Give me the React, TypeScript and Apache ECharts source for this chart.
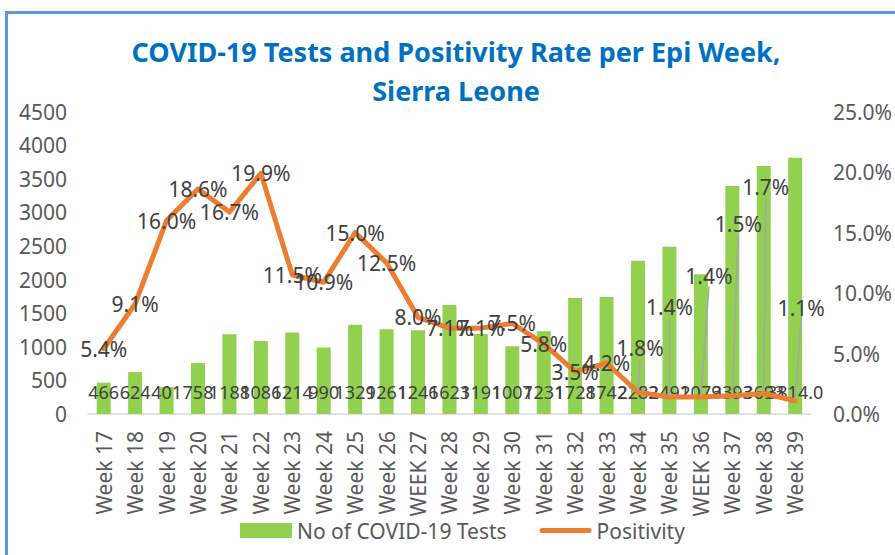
import React, { useEffect, useRef } from "react";
import * as echarts from "echarts";

const weeks = [
  "Week 17", "Week 18", "Week 19", "Week 20", "Week 21", "Week 22", "Week 23",
  "Week 24", "Week 25", "Week 26", "WEEK 27", "Week 28", "Week 29", "Week 30",
  "Week 31", "Week 32", "Week 33", "Week 34", "Week 35", "WEEK 36", "Week 37",
  "Week 38", "Week 39",
];

const tests = [
  466, 624, 401, 758, 1188, 1086, 1214, 990, 1329, 1261, 1246, 1623, 1191,
  1007, 1231, 1728, 1742, 2282, 2491, 2079, 3393, 3693, 3814,
];

const positivity = [
  5.4, 9.1, 16.0, 18.6, 16.7, 19.9, 11.5, 10.9, 15.0, 12.5, 8.0, 7.1, 7.1,
  7.5, 5.8, 3.5, 4.2, 1.8, 1.4, 1.4, 1.5, 1.7, 1.1,
];

const leftTicks = { min: 0, max: 4500, interval: 500 };
const rightTicks = { min: 0, max: 25, interval: 5 };

// label displacement (px) for the positivity labels that carry leader lines
const leaderOffsets: Record<number, [number, number]> = {
  17: [2, -44],
  18: [0, -90],
  19: [8, -121],
  20: [6, -172],
  21: [2, -206],
  22: [6, -93],
};

const FONT = "'Noto Sans', sans-serif";

export default function App() {
  const ref = useRef<HTMLDivElement>(null);

  useEffect(() => {
    if (!ref.current) return;
    const chart = echarts.init(ref.current, null, { renderer: "svg" });
    const last = tests.length - 1;

    chart.setOption({
      animation: false,
      backgroundColor: "#ffffff",
      textStyle: { fontFamily: FONT },
      title: {
        text: "COVID-19 Tests and Positivity Rate per Epi Week,\nSierra Leone",
        left: 456,
        top: 32,
        padding: 0,
        textAlign: "center",
        textStyle: {
          fontFamily: FONT,
          fontSize: 27,
          fontWeight: "bold",
          color: "#0070C0",
          lineHeight: 39,
        },
      },
      graphic: [
        {
          type: "rect",
          shape: { x: 6.5, y: 12.5, width: 940, height: 620 },
          style: { fill: "none", stroke: "#5B9BD5", lineWidth: 3 },
          silent: true,
        },
      ],
      legend: {
        left: 240,
        top: 520,
        padding: 0,
        itemWidth: 52,
        itemHeight: 15,
        itemGap: 33,
        textStyle: { fontFamily: FONT, fontSize: 21, color: "#595959" },
        data: [
          { name: "No of COVID-19 Tests", icon: "rect" },
          { name: "Positivity", icon: "path://M2,0 L50,0 Q52,0 52,2.5 Q52,5 50,5 L2,5 Q0,5 0,2.5 Q0,0 2,0 Z" },
        ],
      },
      grid: { left: 88, right: 82, top: 111.7, bottom: 141 },
      xAxis: {
        type: "category",
        data: weeks,
        boundaryGap: true,
        axisLine: { show: true, lineStyle: { color: "#D9D9D9", width: 1.5 } },
        axisTick: { show: false },
        axisLabel: {
          rotate: 90,
          margin: 17,
          interval: 0,
          fontFamily: FONT,
          fontSize: 21,
          color: "#595959",
        },
      },
      yAxis: [
        {
          type: "value",
          min: leftTicks.min,
          max: leftTicks.max,
          interval: leftTicks.interval,
          axisLine: { show: false },
          axisTick: { show: false },
          splitLine: { show: false },
          axisLabel: {
            margin: 21,
            fontFamily: FONT,
            fontSize: 21,
            color: "#595959",
            formatter: (v: number) => String(v),
          },
        },
        {
          type: "value",
          min: rightTicks.min,
          max: rightTicks.max,
          interval: rightTicks.interval,
          axisLine: { show: false },
          axisTick: { show: false },
          splitLine: { show: false },
          axisLabel: {
            margin: 22,
            fontFamily: FONT,
            fontSize: 21,
            color: "#595959",
            formatter: (v: number) => v.toFixed(1) + "%",
          },
        },
      ],
      series: [
        {
          name: "No of COVID-19 Tests",
          type: "bar",
          yAxisIndex: 0,
          data: tests,
          barWidth: 14,
          itemStyle: { color: "#92D050" },
          label: {
            show: true,
            position: "insideBottom",
            distance: 13,
            fontFamily: FONT,
            fontSize: 18,
            color: "#404040",
            formatter: (p: any) =>
              p.dataIndex === last ? Number(p.value).toFixed(1) : String(p.value),
          },
          z: 2,
        },
        {
          name: "Positivity",
          type: "line",
          yAxisIndex: 1,
          data: positivity.map((v, i) =>
            leaderOffsets[i] ? { value: v, labelLine: { show: true } } : v
          ),
          color: "#ED7D31",
          symbol: "circle",
          symbolSize: 2,
          lineStyle: { color: "#ED7D31", width: 5, cap: "round", join: "round" },
          itemStyle: { color: "#ED7D31" },
          label: {
            show: true,
            position: "inside",
            fontFamily: FONT,
            fontSize: 21,
            color: "#404040",
            formatter: (p: any) => Number(p.value).toFixed(1) + "%",
          },
          labelLine: {
            show: false,
            lineStyle: { color: "#A6A6A6", width: 1.5 },
          },
          labelLayout: (params: any) => {
            const off = leaderOffsets[params.dataIndex];
            if (!off) return {};
            return { dx: off[0], dy: off[1] };
          },
          z: 3,
        },
      ],
    });

    return () => chart.dispose();
  }, []);

  return (
    <div
      ref={ref}
      style={{ position: "absolute", left: 0, top: 0, width: 895, height: 555 }}
    />
  );
}
